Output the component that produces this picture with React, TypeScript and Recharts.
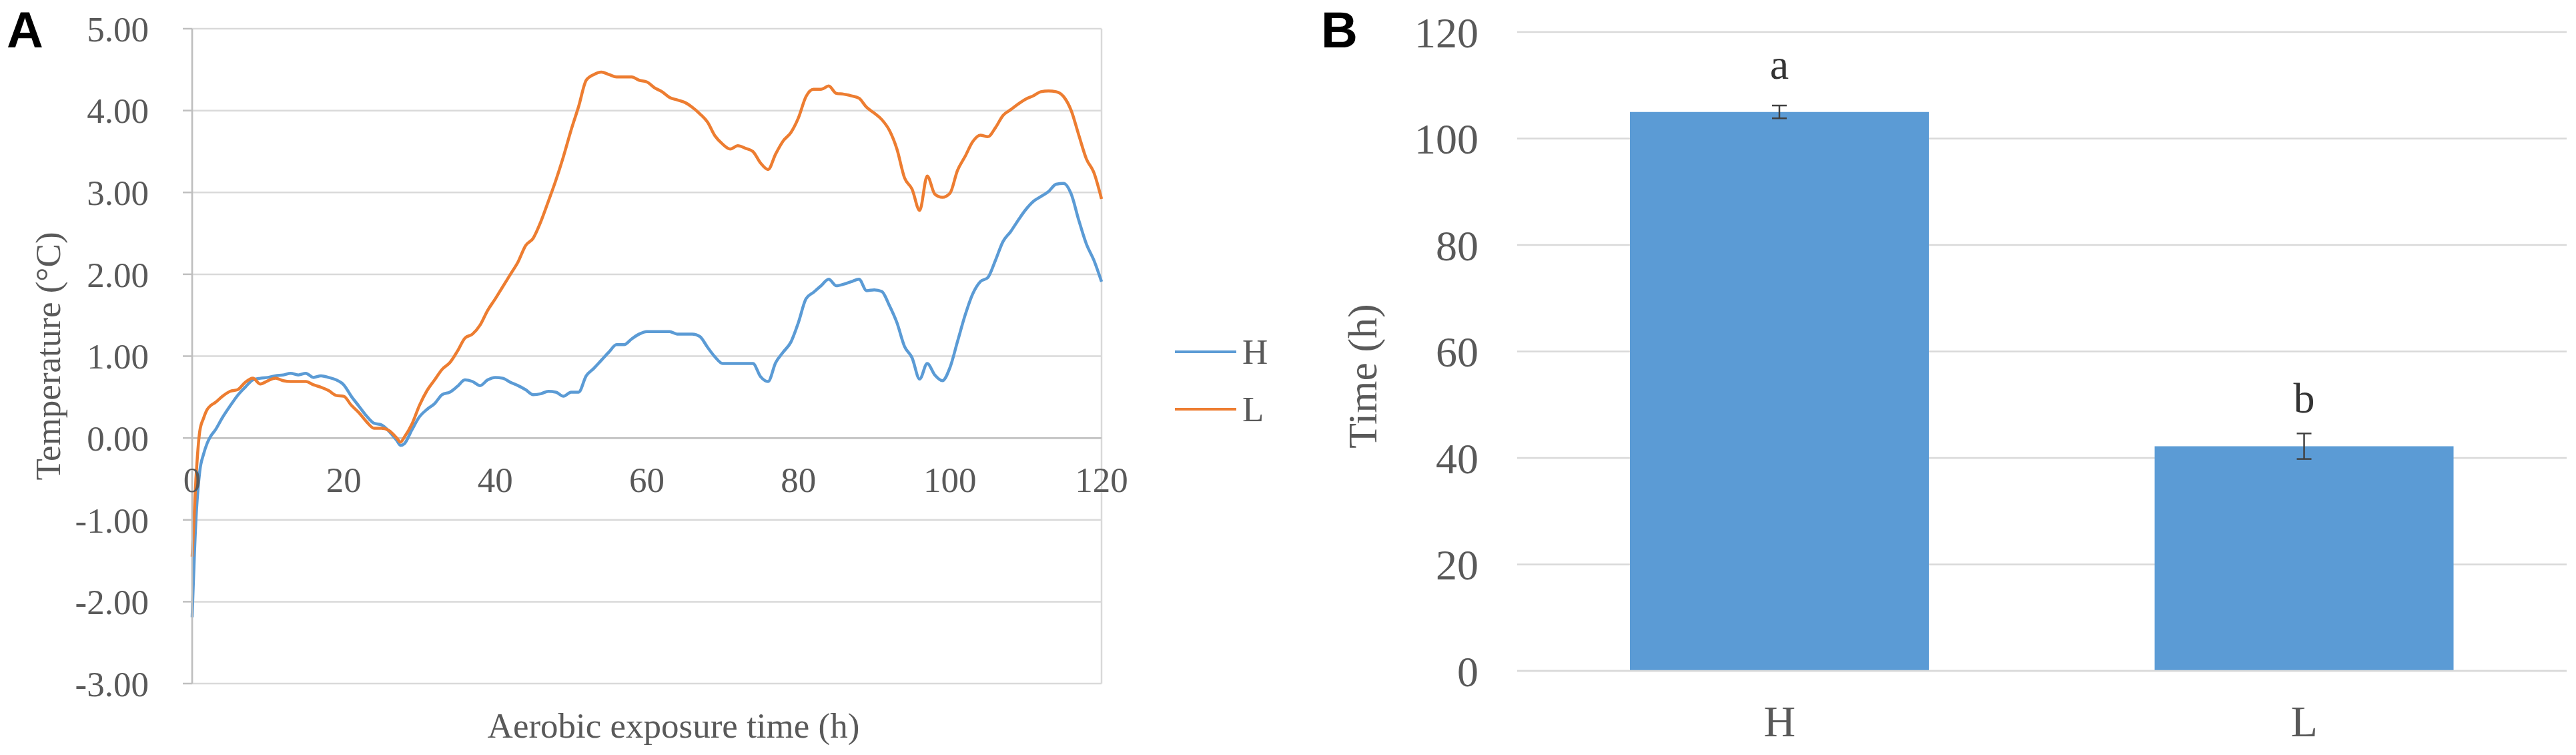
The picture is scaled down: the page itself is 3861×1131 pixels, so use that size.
import {
  LineChart,
  Line,
  BarChart,
  Bar,
  ErrorBar,
  LabelList,
  XAxis,
  YAxis,
  CartesianGrid,
  ReferenceLine,
  ReferenceDot,
} from "recharts";

// Panel A: temperature rise above ambient during aerobic exposure
const hours = [
  0, 0.5, 1, 1.5, 2, 2.5, 3, 4, 5, 6, 7, 8, 9, 10, 11, 12, 13, 14, 15, 16, 17, 18, 19, 20,
  21, 22, 23, 24, 25, 26, 27, 27.5, 28, 29, 30, 31, 32, 33, 34, 35, 36, 37, 38, 39, 40,
  41, 42, 43, 44, 45, 46, 47, 48, 49, 50, 51, 52, 53, 54, 55, 56, 57, 58, 59, 60,
  61, 62, 63, 64, 65, 66, 67, 68, 69, 70, 71, 72, 73, 74, 75, 76, 77, 78, 79, 80,
  81, 82, 83, 84, 85, 86, 87, 88, 89, 90, 91, 92, 93, 94, 95, 96, 97, 98, 99, 100,
  101, 102, 103, 104, 105, 106, 107, 108, 109, 110, 111, 112, 113, 114, 115, 116, 117, 118, 119, 120,
];

const tempH = [
  -2.19, -1.0, -0.41, -0.2, -0.06, 0.03, 0.09, 0.25, 0.39, 0.52, 0.62, 0.71, 0.73, 0.74, 0.76, 0.77, 0.79, 0.77, 0.79, 0.74, 0.76, 0.74, 0.71, 0.65,
  0.51, 0.39, 0.27, 0.18, 0.16, 0.08, -0.03, -0.09, -0.07, 0.1, 0.26, 0.35, 0.42, 0.53, 0.56, 0.63, 0.71, 0.69, 0.64, 0.71, 0.74,
  0.73, 0.68, 0.64, 0.59, 0.53, 0.54, 0.57, 0.56, 0.51, 0.56, 0.56, 0.76, 0.85, 0.95, 1.05, 1.14, 1.14, 1.21, 1.27, 1.3,
  1.3, 1.3, 1.3, 1.27, 1.27, 1.27, 1.24, 1.11, 0.99, 0.91, 0.91, 0.91, 0.91, 0.91, 0.75, 0.69, 0.92, 1.05, 1.17, 1.41,
  1.7, 1.78, 1.86, 1.94, 1.86, 1.88, 1.91, 1.94, 1.8, 1.81, 1.79, 1.62, 1.41, 1.12, 0.98, 0.72, 0.91, 0.77, 0.7, 0.86,
  1.18, 1.5, 1.76, 1.91, 1.96, 2.17, 2.4, 2.52, 2.66, 2.79, 2.89, 2.95, 3.01, 3.1, 3.11, 2.98, 2.66, 2.37, 2.17, 1.91,
];

const tempL = [
  -1.45, -0.5, 0.08, 0.24, 0.35, 0.4, 0.43, 0.51, 0.57, 0.59, 0.68, 0.73, 0.66, 0.7, 0.73, 0.7, 0.69, 0.69, 0.69, 0.65, 0.62, 0.58, 0.52, 0.51,
  0.4, 0.31, 0.2, 0.12, 0.12, 0.09, 0.0, -0.05, 0.01, 0.17, 0.4, 0.58, 0.71, 0.84, 0.92, 1.06, 1.22, 1.27, 1.38, 1.56, 1.7,
  1.85, 2.0, 2.15, 2.35, 2.44, 2.64, 2.89, 3.15, 3.44, 3.76, 4.05, 4.37, 4.44, 4.47, 4.44, 4.41, 4.41, 4.41, 4.37, 4.35,
  4.28, 4.23, 4.16, 4.13, 4.1, 4.04, 3.96, 3.86, 3.69, 3.59, 3.53, 3.57, 3.54, 3.5, 3.36, 3.28, 3.47, 3.63, 3.73, 3.91,
  4.17, 4.26, 4.26, 4.3, 4.21, 4.2, 4.18, 4.15, 4.04, 3.97, 3.89, 3.76, 3.53, 3.18, 3.04, 2.78, 3.2, 2.98, 2.94, 2.99,
  3.27, 3.44, 3.62, 3.7, 3.68, 3.79, 3.94, 4.01, 4.08, 4.14, 4.18, 4.23, 4.24, 4.23, 4.17, 4.0, 3.7, 3.41, 3.24, 2.92,
];

const hourTicks = [0, 20, 40, 60, 80, 100, 120];
const tempTicks = [-3, -2, -1, 0, 1, 2, 3, 4, 5];

const seriesA = [
  { key: "H", color: "#5B9BD5" },
  { key: "L", color: "#ED7D31" },
];

// Panel B: aerobic stability time
const groups = ["H", "L"];
const stableTime = [105, 42.2];
const stableErr = [1.2, 2.4];
const letters = ["a", "b"];
const timeTicks = [0, 20, 40, 60, 80, 100, 120];

const lineData = hours.map((t, i) => ({ t, H: tempH[i], L: tempL[i] }));
const barData = groups.map((name, i) => ({
  name,
  time: stableTime[i],
  err: stableErr[i],
  letter: letters[i],
}));

const TEXT = "#595959";
const GRID = "#d9d9d9";
const AXIS = "#bfbfbf";

function AxisTitle(props: any) {
  const { viewBox, text, shiftX = 0, shiftY = 0, vertical, size } = props;
  if (!viewBox) return null;
  if (vertical) {
    const x = viewBox.x + shiftX;
    const y = viewBox.y + viewBox.height / 2 + shiftY;
    return (
      <text
        x={x}
        y={y}
        transform={`rotate(-90 ${x} ${y})`}
        textAnchor="middle"
        dominantBaseline="central"
        fill={TEXT}
        fontSize={size}
      >
        {text}
      </text>
    );
  }
  const x = viewBox.x + viewBox.width / 2 + shiftX;
  const y = viewBox.y + shiftY;
  return (
    <text x={x} y={y} textAnchor="middle" fill={TEXT} fontSize={size}>
      {text}
    </text>
  );
}

const panelLetter = {
  position: "absolute" as const,
  top: 1,
  fontFamily: "'Liberation Sans', Arial, sans-serif",
  fontWeight: 700,
  fontSize: 76,
  lineHeight: 1.15,
  color: "#000",
};

export default function App() {
  return (
    <div
      style={{
        position: "absolute",
        left: 0,
        top: 0,
        width: 3861,
        height: 1131,
        overflow: "hidden",
        background: "#fff",
        fontFamily: "'Liberation Serif', 'Times New Roman', serif",
      }}
    >
      <div style={{ ...panelLetter, left: 10 }}>A</div>
      <div style={{ ...panelLetter, left: 1980 }}>B</div>

      <div style={{ position: "absolute", left: 0, top: 0 }}>
        <LineChart
          width={1700}
          height={1131}
          data={lineData}
          margin={{ top: 43, right: 49, left: 0, bottom: 0 }}
        >
          <CartesianGrid stroke={GRID} strokeWidth={2.5} />
          <XAxis
            dataKey="t"
            type="number"
            domain={[0, 120]}
            ticks={hourTicks}
            tick={false}
            tickLine={false}
            axisLine={false}
            height={107}
            label={<AxisTitle text="Aerobic exposure time (h)" shiftX={40} shiftY={81} size={53} />}
          />
          <YAxis
            type="number"
            domain={[-3, 5]}
            ticks={tempTicks}
            width={288}
            tickFormatter={(v: number) => v.toFixed(2)}
            tick={{ fill: TEXT, fontSize: 53 }}
            tickSize={14}
            tickMargin={51}
            tickLine={{ stroke: AXIS, strokeWidth: 2.5 }}
            axisLine={{ stroke: AXIS, strokeWidth: 2.5 }}
            label={<AxisTitle text="Temperature (°C)" vertical shiftX={72} shiftY={0} size={53} />}
          />
          <ReferenceLine y={0} stroke={AXIS} strokeWidth={2.5} />
          {hourTicks.map((t) => (
            <ReferenceDot
              key={t}
              x={t}
              y={0}
              r={0}
              fill="none"
              stroke="none"
              label={{ value: String(t), position: "bottom", offset: 43, fill: TEXT, fontSize: 53 }}
            />
          ))}
          {seriesA.map((s) => (
            <Line
              key={s.key}
              type="monotone"
              dataKey={s.key}
              stroke={s.color}
              strokeWidth={4.5}
              dot={false}
              activeDot={false}
              isAnimationActive={false}
            />
          ))}
        </LineChart>
      </div>

      {seriesA.map((s, i) => (
        <div
          key={s.key}
          style={{
            position: "absolute",
            left: 1761,
            top: 497 + i * 86,
            height: 60,
            display: "flex",
            alignItems: "center",
            color: TEXT,
            fontSize: 53,
            lineHeight: "60px",
          }}
        >
          <span style={{ display: "inline-block", width: 92, height: 4, background: s.color }} />
          <span style={{ marginLeft: 9 }}>{s.key}</span>
        </div>
      ))}

      <div style={{ position: "absolute", left: 1960, top: 0 }}>
        <BarChart
          width={1901}
          height={1131}
          data={barData}
          margin={{ top: 48, right: 14, left: 0, bottom: 0 }}
        >
          <CartesianGrid vertical={false} stroke={GRID} strokeWidth={2.5} />
          <XAxis
            dataKey="name"
            height={126}
            tick={{ fill: TEXT, fontSize: 66 }}
            tickLine={false}
            tickSize={8}
            tickMargin={43}
            axisLine={{ stroke: GRID, strokeWidth: 2.5 }}
          />
          <YAxis
            type="number"
            domain={[0, 120]}
            ticks={timeTicks}
            width={314}
            tick={{ fill: TEXT, fontSize: 64 }}
            tickLine={false}
            axisLine={false}
            tickSize={8}
            tickMargin={50}
            label={<AxisTitle text="Time (h)" vertical shiftX={82} shiftY={37} size={62} />}
          />
          <Bar dataKey="time" fill="#5B9BD5" barSize={448} isAnimationActive={false}>
            <ErrorBar dataKey="err" width={11} stroke="#404040" strokeWidth={2.5} direction="y" />
            <LabelList dataKey="letter" position="top" offset={50} fill="#333" fontSize={64} />
          </Bar>
        </BarChart>
      </div>
    </div>
  );
}
